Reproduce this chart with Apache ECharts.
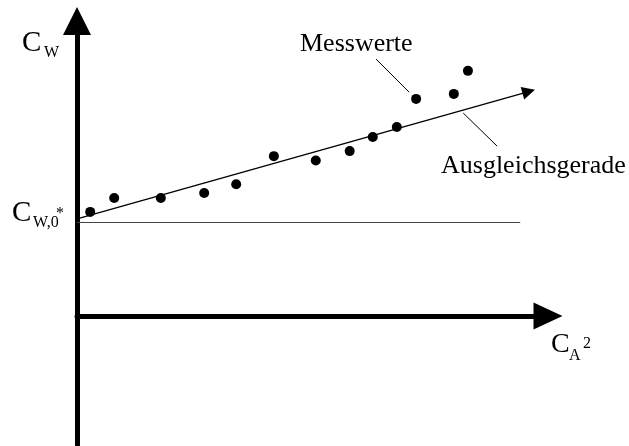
<!DOCTYPE html>
<html>
<head>
<meta charset="utf-8">
<script src="https://cdn.jsdelivr.net/npm/echarts@6/dist/echarts.min.js"></script>
<style>
  html, body { margin: 0; padding: 0; background: #fff; }
  #main { width: 629px; height: 446px; }
</style>
</head>
<body>
<div id="main"></div>
<script>
// schematic units
var xRange = [0, 10];
var yRange = [-4.37, 10];

// Messwerte (C_A^2, C_W)
var measuredX = [0.28, 0.79, 1.78, 2.70, 3.38, 4.18, 5.07, 5.79, 6.28, 6.79, 7.20, 8.00, 8.30];
var measuredY = [3.53, 4.00, 4.00, 4.17, 4.47, 5.42, 5.27, 5.59, 6.07, 6.41, 7.36, 7.53, 8.31];

// Ausgleichsgerade, start and end
var fitLine = [[0, 3.29], [9.59, 7.61]];
// level C_W,0*
var baseLevel = [[0, 3.19], [9.41, 3.19]];
// pointer lines for the two notes
var leaderMess = [[6.35, 8.71], [7.05, 7.59]];
var leaderFit = [[8.20, 6.88], [8.92, 5.76]];

var SERIF = '"Liberation Serif", "Times New Roman", serif';

function pts(xs, ys) {
    var out = [];
    for (var i = 0; i < xs.length; i++) {
        out.push([xs[i], ys[i]]);
    }
    return out;
}

function txt(str, x, y, size) {
    return {
        type: 'text', x: x, y: y, silent: true,
        style: {
            text: str, font: size + 'px ' + SERIF, fill: '#000',
            align: 'left', verticalAlign: 'middle'
        }
    };
}

var chart = echarts.init(document.getElementById('main'));

var option = {
    animation: false,
    backgroundColor: '#fff',
    grid: { left: 77, right: 81, top: 21, bottom: 1, containLabel: false },
    xAxis: {
        type: 'value', min: xRange[0], max: xRange[1],
        axisLine: {
            show: true, onZero: true,
            symbol: ['none', 'triangle'], symbolSize: [27, 29],
            lineStyle: { color: '#000', width: 5 }
        },
        axisTick: { show: false }, axisLabel: { show: false }, splitLine: { show: false }
    },
    yAxis: {
        type: 'value', min: yRange[0], max: yRange[1],
        axisLine: {
            show: true, onZero: true,
            symbol: ['none', 'triangle'], symbolSize: [28, 28],
            lineStyle: { color: '#000', width: 5 }
        },
        axisTick: { show: false }, axisLabel: { show: false }, splitLine: { show: false }
    },
    series: [
        {
            type: 'lines', coordinateSystem: 'cartesian2d', silent: true,
            symbol: ['none', 'none'],
            lineStyle: { color: '#444', width: 1, opacity: 1 },
            data: [{ coords: baseLevel }]
        },
        {
            type: 'lines', coordinateSystem: 'cartesian2d', silent: true,
            symbol: ['none', 'triangle'], symbolSize: [12, 13],
            lineStyle: { color: '#000', width: 1.3, opacity: 1 },
            data: [{ coords: fitLine }]
        },
        {
            type: 'lines', coordinateSystem: 'cartesian2d', silent: true,
            symbol: ['none', 'none'],
            lineStyle: { color: '#000', width: 1, opacity: 1 },
            data: [{ coords: leaderMess }, { coords: leaderFit }]
        },
        {
            type: 'scatter', silent: true,
            symbol: 'circle', symbolSize: 10,
            itemStyle: { color: '#000', opacity: 1 },
            data: pts(measuredX, measuredY)
        }
    ],
    graphic: [
        txt('Messwerte', 300, 44, 26),
        txt('Ausgleichsgerade', 441, 166, 26),
        txt('C', 22, 43, 29),
        txt('W', 44, 52.6, 16),
        txt('C', 12, 213, 29),
        txt('W,0', 33, 222.6, 16),
        txt('*', 56, 213.4, 16),
        txt('C', 551, 344.5, 28),
        txt('A', 569, 355.6, 16),
        txt('2', 583, 343.6, 16)
    ]
};

chart.setOption(option);
</script>
</body>
</html>
